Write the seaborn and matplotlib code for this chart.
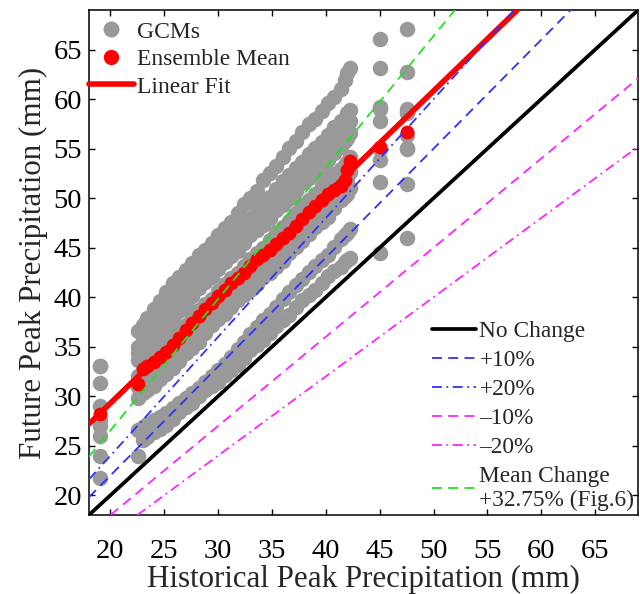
import numpy as np
import pandas as pd
import matplotlib
matplotlib.use("Agg")
import matplotlib.pyplot as plt
import seaborn as sns
from matplotlib.lines import Line2D

# historical peak precipitation at each station (mm)
hist_x = [19.0, 22.6, 23.0, 23.4, 24.0, 24.6, 25.2, 25.8, 26.4, 27.0, 27.6, 28.2, 28.8,
          29.4, 30.0, 30.6, 31.2, 31.8, 32.4, 33.0, 33.6, 34.2, 34.8, 35.4, 36.0, 36.6,
          37.2, 37.8, 38.4, 39.0, 39.6, 40.2, 40.8, 41.4, 41.8, 42.0, 42.2, 45.0, 47.5]

# future peak precipitation per GCM (mm)
gcm_a = [33.1, 36.6, 37.2, 37.9, 38.8, 39.6, 40.5, 41.4, 42.0, 42.7, 43.5, 44.3, 44.8,
         45.5, 46.3, 47.0, 47.6, 48.5, 49.4, 50.0, 50.7, 51.8, 52.5, 53.3, 54.2, 55.1,
         55.8, 56.7, 57.5, 58.0, 58.8, 59.6, 60.2, 61.0, 61.9, 62.6, 63.2, 66.1, 67.1]
gcm_b = [31.3, 35.0, 35.7, 36.1, 37.1, 38.1, 38.8, 39.6, 40.5, 41.1, 41.8, 42.6, 43.4,
         43.9, 44.5, 45.3, 46.0, 46.6, 47.2, 48.0, 48.8, 49.4, 50.1, 50.9, 51.7, 52.3,
         53.0, 53.7, 54.5, 55.1, 55.7, 56.4, 57.2, 57.8, 58.0, 58.6, 58.9, 63.2, 62.7]
gcm_h = [33.0, 34.4, 34.9, 35.5, 36.3, 37.2, 38.0, 38.7, 39.6, 40.2, 41.0, 41.7, 42.4,
         43.0, 43.7, 44.4, 45.1, 45.6, 46.4, 47.1, 47.8, 48.4, 49.0, 49.8, 50.5, 51.1,
         51.9, 52.6, 53.2, 53.8, 54.5, 55.2, 55.9, 56.5, 56.9, 57.3, 57.8, 59.0, 58.6]
gcm_c = [29.0, 33.7, 34.1, 34.8, 35.5, 36.2, 37.1, 37.9, 38.6, 39.2, 40.1, 40.9, 41.5,
         42.0, 42.8, 43.6, 44.2, 44.7, 45.5, 46.3, 46.8, 47.3, 48.0, 48.8, 49.3, 49.9,
         50.7, 51.5, 52.0, 52.5, 53.2, 53.9, 54.6, 55.2, 55.8, 56.1, 56.6, 59.2, 59.0]
gcm_d = [27.6, 32.0, 32.6, 33.2, 33.8, 34.4, 35.2, 36.0, 36.6, 37.2, 38.0, 38.7, 39.3,
         39.8, 40.6, 41.3, 41.9, 42.4, 43.2, 43.9, 44.5, 45.0, 45.8, 46.6, 47.1, 47.7,
         48.5, 49.3, 49.8, 50.4, 51.2, 51.9, 52.4, 52.9, 53.4, 53.7, 54.2, 57.8, 56.4]
gcm_i = [27.0, 30.9, 31.4, 31.9, 32.4, 33.1, 33.7, 34.4, 35.1, 35.8, 36.5, 37.1, 37.8,
         38.5, 39.2, 39.8, 40.5, 41.0, 41.7, 42.3, 42.9, 43.5, 44.1, 44.8, 45.4, 46.1,
         46.8, 47.5, 48.1, 48.7, 49.4, 50.0, 50.7, 51.3, 51.8, 52.0, 52.6, 55.0, 55.0]
gcm_e = [26.0, 29.8, 30.3, 30.6, 31.0, 31.7, 32.2, 32.8, 33.6, 34.4, 34.9, 35.5, 36.4,
         37.2, 37.8, 38.3, 39.0, 39.7, 40.2, 40.7, 41.3, 42.0, 42.4, 43.0, 43.7, 44.5,
         45.1, 45.7, 46.4, 47.1, 47.6, 48.1, 49.0, 49.8, 50.2, 50.4, 51.0, 53.9, 55.1]
gcm_f = [24.0, 26.6, 26.9, 27.2, 27.6, 27.9, 28.3, 28.8, 29.3, 29.8, 30.3, 30.8, 31.4,
         32.0, 32.6, 33.3, 34.0, 34.8, 35.5, 36.3, 37.0, 37.7, 38.3, 39.0, 39.8, 40.5,
         41.2, 41.8, 42.5, 43.2, 43.8, 44.3, 45.1, 45.9, 46.3, 46.5, 46.9, 51.6, 51.4]
gcm_g = [21.7, 24.0, 25.6, 25.9, 26.4, 26.7, 27.1, 27.7, 28.4, 28.9, 29.3, 30.0, 30.6,
         31.0, 31.4, 32.1, 32.6, 33.2, 33.9, 34.7, 35.2, 35.7, 36.4, 37.1, 37.7, 38.2,
         39.0, 39.7, 40.2, 40.7, 41.4, 42.1, 42.6, 43.1, 43.6, 43.8, 44.0, 44.5, 46.0]

# ensemble mean at each station
ens_mean = [28.2, 31.2, 32.7, 33.1, 33.5, 34.0, 34.5, 35.2, 35.9, 36.7, 37.4, 38.1, 38.8,
            39.4, 40.1, 40.7, 41.4, 41.9, 42.4, 43.2, 43.9, 44.3, 44.8, 45.4, 46.0, 46.5,
            47.2, 47.9, 48.6, 49.2, 49.8, 50.4, 50.8, 51.2, 51.8, 52.8, 53.8, 55.2, 56.7]

# linear fit of the ensemble mean
fit_slope = 1.051
fit_intercept = 8.28

# reference change lines
ref_labels = ["No Change", "+10%", "+20%", "\u201310%", "\u201320%",
              "Mean Change\n+32.75% (Fig.6)"]
ref_factors = [1.0, 1.10, 1.20, 0.90, 0.80, 1.3275]

gcm_cols = [gcm_a, gcm_b, gcm_h, gcm_c, gcm_d, gcm_i, gcm_e, gcm_f, gcm_g]
gcm_df = pd.DataFrame({
    "hist": np.tile(hist_x, len(gcm_cols)),
    "future": np.concatenate(gcm_cols),
})
mean_df = pd.DataFrame({"hist": hist_x, "future": ens_mean})

sns.set_style("ticks")
plt.rcParams["font.family"] = ["Liberation Serif", "DejaVu Serif"]

fig = plt.figure(figsize=(6.4, 5.94), dpi=100)
ax = fig.add_axes([0.139, 0.133, 0.858, 0.850])

gray = "#999999"
red = "#ff0000"
sns.scatterplot(data=gcm_df, x="hist", y="future", color=gray, s=125,
                linewidth=0, ax=ax, zorder=2, legend=False)
sns.scatterplot(data=mean_df, x="hist", y="future", color=red, s=100,
                linewidth=0, ax=ax, zorder=3, legend=False)
ax.axline((0, fit_intercept), slope=fit_slope, color=red, lw=4, zorder=4)

styles = [
    dict(color="black", lw=2.7, ls="-"),
    dict(color="#3030ff", lw=1.3, ls=(0, (5.5, 3.5))),
    dict(color="#3030ff", lw=1.3, ls=(0, (5.5, 2.5, 1, 2.5))),
    dict(color="#ff22ff", lw=1.3, ls=(0, (5.5, 3.5))),
    dict(color="#ff22ff", lw=1.3, ls=(0, (5.5, 2.5, 1, 2.5))),
    dict(color="#22e022", lw=1.3, ls=(0, (5.5, 3.5))),
]
ref_handles = []
for f, st in zip(ref_factors, styles):
    ax.axline((0, 0), slope=f, zorder=5, **st)
    ref_handles.append(Line2D([], [], **st))

ax.set_xlim(18, 69)
ax.set_ylim(18, 69)
ax.set_xticks(np.arange(20, 66, 5))
ax.set_yticks(np.arange(20, 66, 5))
ax.tick_params(direction="in", top=True, right=True, length=4, width=1,
               labelsize=20.5, colors="black")
ax.tick_params(axis="x", pad=17)
ax.tick_params(axis="y", pad=5)
for sp in ax.spines.values():
    sp.set_linewidth(1.1)
    sp.set_color("black")

ax.set_xlabel("Historical Peak Precipitation (mm)", fontsize=22.3, labelpad=1)
ax.set_ylabel("Future Peak Precipitation (mm)", fontsize=22.3, labelpad=4)

top_handles = [
    Line2D([], [], marker="o", color=gray, ls="None", markersize=10.5),
    Line2D([], [], marker="o", color=red, ls="None", markersize=10),
    Line2D([], [], color=red, lw=4),
]
leg1 = ax.legend(top_handles, ["GCMs", "Ensemble Mean", "Linear Fit"],
                 loc="upper left", bbox_to_anchor=(0.0, 0.978), frameon=False,
                 fontsize=17, handlelength=1.9, handletextpad=0.15,
                 labelspacing=0.25, borderpad=0, borderaxespad=0)
ax.add_artist(leg1)
ax.legend(ref_handles, ref_labels, loc="lower left",
          bbox_to_anchor=(0.624, 0.008), frameon=False, fontsize=16.8,
          handlelength=1.9, handletextpad=0.15, labelspacing=0.33,
          borderpad=0, borderaxespad=0)

fig.savefig("out.png", dpi=100)
